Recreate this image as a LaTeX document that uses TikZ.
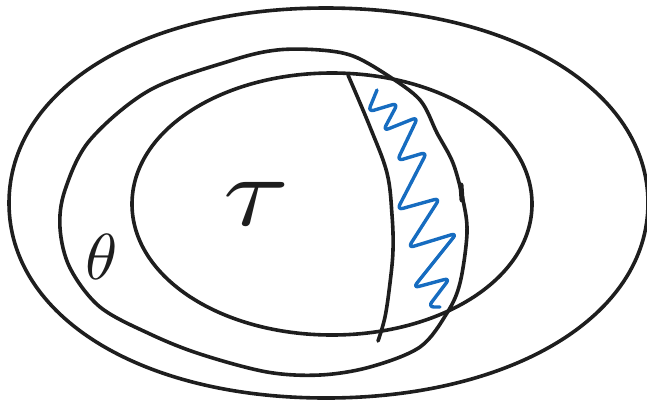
\documentclass[tikz,border=0pt]{standalone}
\definecolor{zigblue}{RGB}{22,108,192}
\definecolor{ink}{RGB}{30,30,30}
\begin{document}
\begin{tikzpicture}[x=1pt,y=-1pt,
  pen/.style={draw=ink,line width=3.6pt,line cap=round,line join=round},
  zig/.style={draw=zigblue,line width=3.4pt,line cap=round,line join=round,rounded corners=6pt},
  lab/.style={text=ink,inner sep=0pt}]
\useasboundingbox (0,0) rectangle (647,400);
% outer region
\draw[pen] (9,203) .. controls (9,90) and (140,8) .. (326,8)
  .. controls (512,8) and (648,90) .. (648,203)
  .. controls (648,316) and (512,398) .. (326,398)
  .. controls (140,398) and (9,316) .. (9,203) -- cycle;
% middle region (theta)
\draw[pen] plot[smooth cycle,tension=0.55] coordinates {
 (277,50) (320,50) (353,56) (387,75) (420,100) (437,133) (453,163) (463,200)
 (467,233) (460,283) (447,313) (420,347) (370,367) (320,375) (267,372)
 (200,354) (150,334) (100,307) (70,268) (60,228) (65,190) (90,140) (150,90) (233,60)};
\draw[pen,line width=5pt] (461,185) -- (462,200);
% inner region (tau)
\draw[pen] (132,204) .. controls (132,130) and (222,73) .. (332,73)
  .. controls (442,73) and (532,130) .. (532,204)
  .. controls (532,278) and (442,335) .. (332,335)
  .. controls (222,335) and (132,278) .. (132,204) -- cycle;
% dividing curve
\draw[pen] plot[smooth,tension=0.6] coordinates {
 (348,75) (370,127) (387,173) (392,215) (393,250) (390,283) (385,317) (378,341)};
% blue zigzag
\draw[zig] (377,90) -- (368,112) -- (398,103) -- (383,131) -- (418,117)
 -- (397,161) -- (427,152) -- (397,210) -- (440,198) -- (408,248)
 -- (457,233) -- (413,288) -- (450,278) -- (428,307) -- (440,307);
% labels
\node[lab,xscale=12,yscale=10] (tau) at (257,204) {$\tau$};
\node[lab,scale=6.5] (theta) at (102,257) {$\theta$};
\end{tikzpicture}
\end{document}
